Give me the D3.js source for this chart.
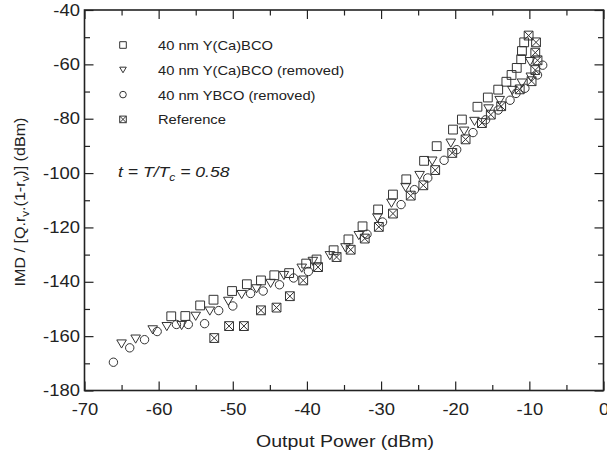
<!DOCTYPE html>
<head>
    <meta charset="utf-8" />
    <title>IMD vs output power</title>
    <script src="https://d3js.org/d3.v7.min.js"></script>
    <style>
        body { margin: 0; background: #fff; }
        svg text { font-family: "Liberation Sans", Arial, Helvetica, sans-serif; fill: #222; }
    </style>
</head>
<body>
<svg width="607" height="454"></svg>
<script>
    // [output power (dBm), IMD (dBm)]
    let yCaBCO = [
        [-58.3,-152.7],[-56.4,-152.6],[-54.4,-148.7],[-52.6,-146.6],[-50.1,-143.4],[-48.1,-140.9],
        [-46.2,-139.5],[-44.4,-137.6],[-42.4,-136.8],[-40.1,-133.3],[-38.7,-131.8],[-36.4,-128.4],
        [-34.4,-124.4],[-32.5,-119.6],[-30.4,-113.4],[-28.4,-107.9],[-26.6,-102.3],[-24.2,-95.5],
        [-22.5,-90.1],[-20.3,-84.0],[-19.1,-80.3],[-17.0,-75.6],[-15.6,-72.2],[-14.2,-69.3],
        [-13.1,-66.4],[-12.4,-63.9],[-11.7,-61.3],[-11.1,-58.1],[-11.0,-55.1],[-10.7,-51.9]
    ];
    let yCaBCORemoved = [
        [-65.0,-162.8],[-63.1,-161.0],[-60.8,-157.6],[-58.9,-156.4],[-56.9,-156.0],[-55.0,-152.6],
        [-53.1,-150.7],[-50.6,-147.1],[-48.8,-144.6],[-46.8,-142.5],[-44.9,-140.5],[-43.1,-137.6],
        [-40.7,-134.9],[-39.2,-132.4],[-36.9,-130.3],[-34.8,-127.4],[-33.0,-122.9],[-30.5,-116.4],
        [-28.6,-111.0],[-26.7,-105.2],[-24.8,-100.8],[-23.1,-95.5],[-20.6,-88.9],[-18.8,-84.5],
        [-17.4,-80.9],[-15.5,-76.3],[-14.0,-73.2],[-12.3,-69.5],[-11.0,-66.8],[-9.8,-64.6],[-9.9,-58.9]
    ];
    let ybcoRemoved = [
        [-66.1,-169.6],[-63.9,-164.3],[-61.9,-161.3],[-60.2,-158.3],[-57.6,-155.7],[-56.0,-155.7],
        [-53.8,-155.4],[-51.9,-150.6],[-50.0,-148.9],[-47.6,-144.3],[-45.9,-143.4],[-43.7,-141.1],
        [-41.8,-138.6],[-39.8,-136.2],[-31.9,-122.5],[-29.8,-118.0],[-27.3,-111.6],[-25.5,-106.1],
        [-23.7,-101.8],[-21.5,-95.3],[-19.8,-91.4],[-17.6,-85.1],[-15.9,-80.4],[-14.2,-76.8],
        [-12.6,-73.2],[-11.8,-70.7],[-10.6,-68.8],[-8.9,-63.9],[-8.2,-60.3]
    ];
    let reference = [
        [-52.5,-160.7],[-50.5,-156.3],[-48.5,-156.3],[-46.2,-150.5],[-44.1,-149.5],[-42.3,-145.3],
        [-40.5,-139.5],[-38.5,-134.6],[-36.0,-130.9],[-34.1,-128.2],[-32.2,-124.1],[-30.3,-119.8],
        [-28.4,-114.9],[-26.0,-108.3],[-24.3,-104.5],[-22.7,-98.9],[-20.4,-92.6],[-18.6,-87.6],
        [-16.4,-81.6],[-15.2,-78.5],[-13.8,-75.4],[-11.3,-69.2],[-9.7,-66.2],[-9.2,-62.1],
        [-8.9,-58.5],[-9.2,-55.7],[-9.1,-51.9],[-10.1,-49.4]
    ];
    let legendLabels = ["40 nm Y(Ca)BCO", "40 nm Y(Ca)BCO (removed)", "40 nm YBCO (removed)", "Reference"];
    let xTicks = [-70, -60, -50, -40, -30, -20, -10, 0];
    let yTicks = [-180, -160, -140, -120, -100, -80, -60, -40];
    let xMinorTicks = [-65, -55, -45, -35, -25, -15, -5];
    let yMinorTicks = [-170, -150, -130, -110, -90, -70, -50];

    let svg = d3.select("svg");
    let plotLeft = 84.5, plotRight = 603.5, plotTop = 10, plotBottom = 390.5;
    let ink = "#333";
    let stretch = 1.15;   // the original lettering is a little wider than Arial

    let x = d3.scaleLinear().domain([-70, 0]).range([plotLeft, plotRight]);
    let y = d3.scaleLinear().domain([-180, -40]).range([plotBottom, plotTop]);

    // marker path generators, centred on 0,0
    function square(s) { return "M" + (-s) + "," + (-s) + "h" + 2*s + "v" + 2*s + "h" + (-2*s) + "Z"; }
    function triangle(s) { return "M" + (-s) + "," + (-s*0.8) + "L" + s + "," + (-s*0.8) + "L0," + s*0.9 + "Z"; }
    function circle(s) { return "M" + s + ",0A" + s + "," + s + " 0 1,1 " + (-s) + ",0A" + s + "," + s + " 0 1,1 " + s + ",0Z"; }
    function crossed(s) { return square(s) + "M" + (-s) + "," + (-s) + "L" + s + "," + s + "M" + s + "," + (-s) + "L" + (-s) + "," + s; }

    let series = [
        {data: yCaBCO, shape: square, size: 4.4},
        {data: yCaBCORemoved, shape: triangle, size: 4.8},
        {data: ybcoRemoved, shape: circle, size: 4.2},
        {data: reference, shape: crossed, size: 4.4}
    ];

    // plain hyphen minus, like the original labels
    let fmt = d => String(d);

    // axes: ticks point inwards, on all four sides; minor ticks in their own groups
    function drawAxis(transform, axis) {
        let g = svg.append("g").attr("transform", transform).call(axis);
        g.select(".domain").remove();
        g.selectAll("line").attr("stroke", "#222").attr("stroke-width", 1.2);
        g.selectAll("text").style("font-size", "16px").attr("fill", "#222")
            .attr("transform", "scale(" + stretch + ",1)");
        return g;
    }

    let bx = "translate(0," + plotBottom + ")", tx = "translate(0," + plotTop + ")";
    let lx = "translate(" + plotLeft + ",0)", rx = "translate(" + plotRight + ",0)";

    drawAxis(bx, d3.axisBottom(x).tickValues(xTicks).tickSize(-9).tickPadding(13).tickFormat(fmt));
    drawAxis(bx, d3.axisBottom(x).tickValues(xMinorTicks).tickSize(-5.5).tickFormat(""));
    drawAxis(tx, d3.axisTop(x).tickValues(xTicks).tickSize(-9).tickFormat(""));
    drawAxis(tx, d3.axisTop(x).tickValues(xMinorTicks).tickSize(-5.5).tickFormat(""));
    drawAxis(lx, d3.axisLeft(y).tickValues(yTicks).tickSize(-9).tickPadding(4).tickFormat(fmt));
    drawAxis(lx, d3.axisLeft(y).tickValues(yMinorTicks).tickSize(-5.5).tickFormat(""));
    drawAxis(rx, d3.axisRight(y).tickValues(yTicks).tickSize(-9).tickFormat(""));
    drawAxis(rx, d3.axisRight(y).tickValues(yMinorTicks).tickSize(-5.5).tickFormat(""));

    svg.append("rect")
        .attr("x", plotLeft).attr("y", plotTop)
        .attr("width", plotRight - plotLeft).attr("height", plotBottom - plotTop)
        .attr("fill", "none").attr("stroke", "#222").attr("stroke-width", 1.6);

    // data markers
    series.forEach(function (s) {
        svg.append("g").selectAll("path")
            .data(s.data)
            .enter().append("path")
            .attr("transform", d => "translate(" + x(d[0]) + "," + y(d[1]) + ")")
            .attr("d", s.shape(s.size))
            .attr("fill", "none")
            .attr("stroke", ink)
            .attr("stroke-width", 1);
    });

    // text placed at (px,py), stretched horizontally along its own direction
    function label(px, py, rotate, size, anchor) {
        let g = svg.append("g").attr("transform",
            "translate(" + px + "," + py + ") rotate(" + rotate + ") scale(" + stretch + ",1)");
        return g.append("text").attr("text-anchor", anchor).style("font-size", size + "px");
    }

    // legend
    legendLabels.forEach(function (name, i) {
        let cy = 45 + i * 24.8;
        svg.append("path")
            .attr("transform", "translate(123," + cy + ")")
            .attr("d", series[i].shape(3.3))
            .attr("fill", "none").attr("stroke", ink).attr("stroke-width", 1);
        label(158, cy + 5, 0, 12.8, "start").text(name);
    });

    // temperature annotation
    let note = label(118, 177, 0, 15.3, "start").style("font-style", "italic");
    note.append("tspan").text("t = T/T");
    note.append("tspan").attr("dy", 4).style("font-size", "10.5px").text("c");
    note.append("tspan").attr("dy", -4).text(" = 0.58");

    // axis titles
    label(345, 447, 0, 17, "middle").text("Output Power (dBm)");

    let yt = label(25, 202, -90, 14, "middle");
    yt.append("tspan").text("IMD / [Q.r");
    yt.append("tspan").attr("dy", 4).style("font-size", "10px").text("v");
    yt.append("tspan").attr("dy", -4).text(".(1-r");
    yt.append("tspan").attr("dy", 4).style("font-size", "10px").text("v");
    yt.append("tspan").attr("dy", -4).text(")]  (dBm)");
</script>
</body>
